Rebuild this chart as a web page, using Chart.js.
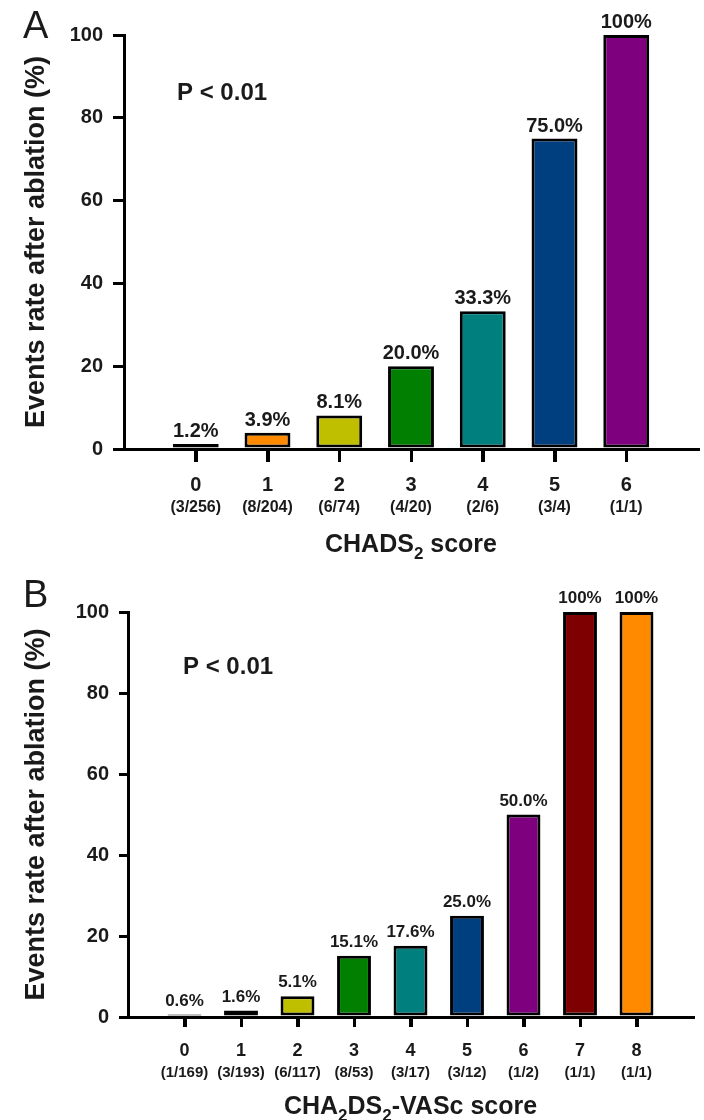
<!DOCTYPE html>
<html>
<head>
<meta charset="utf-8">
<script src="https://cdn.jsdelivr.net/npm/chart.js@4.4.1/dist/chart.umd.min.js"></script>
<style>
  html, body { margin: 0; padding: 0; background: #fff; }
  #wrap { position: relative; width: 704px; height: 1120px; }
  .panel { position: absolute; left: 0; width: 704px; height: 560px; }
</style>
</head>
<body>
<div id="wrap">
  <div class="panel" style="top:0"><canvas id="chartA" width="704" height="560"></canvas></div>
  <div class="panel" style="top:560px"><canvas id="chartB" width="704" height="560"></canvas></div>
</div>
<script>
// Panel A - CHADS2 score
const scoresA = ['0', '1', '2', '3', '4', '5', '6'];
const countsA = ['(3/256)', '(8/204)', '(6/74)', '(4/20)', '(2/6)', '(3/4)', '(1/1)'];
const ratesA = [1.2, 3.9, 8.1, 20.0, 33.3, 75.0, 100];
const colorsA = ['#7a0000', '#ff8a00', '#bfbf00', '#007f00', '#007f7f', '#003f7f', '#7f007f'];

// Panel B - CHA2DS2-VASc score
const scoresB = ['0', '1', '2', '3', '4', '5', '6', '7', '8'];
const countsB = ['(1/169)', '(3/193)', '(6/117)', '(8/53)', '(3/17)', '(3/12)', '(1/2)', '(1/1)', '(1/1)'];
const ratesB = [0.6, 1.6, 5.1, 15.1, 17.6, 25.0, 50.0, 100, 100];
const colorsB = ['#1a0000', '#ff8a00', '#bfbf00', '#007f00', '#007f7f', '#003f7f', '#7f007f', '#7f0000', '#ff8a00'];

const yTicks = [0, 20, 40, 60, 80, 100];

// axis titles as [text, isSubscript] pieces
const titleA = [['CHADS', false], ['2', true], [' score', false]];
const titleB = [['CHA', false], ['2', true], ['DS', false], ['2', true], ['-VASc score', false]];

const FONT = "'Liberation Sans', Arial, sans-serif";
const INK = '#1a1a1a';

function fmtRate(v) {
  return v === 100 ? '100%' : v.toFixed(1) + '%';
}

// panel letter, P value, rates above bars, x tick marks, n/N counts and the x title
const annotate = {
  id: 'annotate',
  afterDraw(chart, args, o) {
    const ctx = chart.ctx;
    const xs = chart.scales.x;
    const meta = chart.getDatasetMeta(0);
    ctx.save();
    ctx.fillStyle = INK;

    ctx.font = 'normal ' + o.letterSize + 'px ' + FONT;
    ctx.textAlign = 'left';
    ctx.textBaseline = 'alphabetic';
    ctx.fillText(o.letter, o.letterX, o.letterY);

    ctx.font = 'bold ' + o.pSize + 'px ' + FONT;
    ctx.textBaseline = 'middle';
    ctx.fillText('P < 0.01', o.pX, o.pY);

    ctx.font = 'bold ' + o.valueSize + 'px ' + FONT;
    ctx.textAlign = 'center';
    ctx.textBaseline = 'alphabetic';
    meta.data.forEach((bar, i) => {
      ctx.fillText(fmtRate(o.rates[i]), bar.x, bar.y - o.valueGap);
    });

    // tick marks under the category positions
    ctx.strokeStyle = '#000';
    ctx.lineWidth = 3;
    xs.ticks.forEach(t => {
      const px = Math.round(xs.getPixelForValue(t.value)) + 0.5;
      ctx.beginPath();
      ctx.moveTo(px, xs.top);
      ctx.lineTo(px, xs.top + o.tickLen);
      ctx.stroke();
    });

    ctx.font = 'bold ' + o.countSize + 'px ' + FONT;
    ctx.textBaseline = 'middle';
    xs.ticks.forEach(t => {
      ctx.fillText(o.counts[t.value], xs.getPixelForValue(t.value), xs.top + o.countOffset);
    });

    // x title with real subscripts
    const big = 'bold ' + o.titleSize + 'px ' + FONT;
    const small = 'bold ' + Math.round(o.titleSize * 0.68) + 'px ' + FONT;
    let total = 0;
    o.title.forEach(([txt, sub]) => { ctx.font = sub ? small : big; total += ctx.measureText(txt).width; });
    let tx = (chart.chartArea.left + chart.chartArea.right) / 2 - total / 2;
    const ty = xs.bottom - o.titleBottom;
    ctx.textAlign = 'left';
    ctx.textBaseline = 'alphabetic';
    o.title.forEach(([txt, sub]) => {
      ctx.font = sub ? small : big;
      ctx.fillText(txt, tx, sub ? ty + o.titleSize * 0.28 : ty);
      tx += ctx.measureText(txt).width;
    });
    ctx.restore();
  }
};

function makeChart(id, s) {
  const n = s.scores.length;
  return new Chart(document.getElementById(id), {
    type: 'bar',
    data: {
      datasets: [{
        data: s.rates.map((v, i) => ({ x: i, y: v })),
        backgroundColor: s.colors,
        borderColor: '#000',
        borderWidth: 3,
        borderSkipped: false,
        categoryPercentage: 1,
        barPercentage: s.barPct,
        clip: false
      }]
    },
    options: {
      responsive: false,
      animation: false,
      layout: { padding: { top: s.top, right: s.right, left: 0, bottom: 0 } },
      plugins: {
        legend: { display: false },
        tooltip: { enabled: false },
        annotate: {
          letter: s.letter, letterX: 23, letterY: s.letterY, letterSize: 38,
          pX: s.pX, pY: s.pY, pSize: 24,
          rates: s.rates, counts: s.counts,
          valueSize: s.valueSize, valueGap: s.valueGap,
          countSize: s.countSize, countOffset: s.countOffset,
          tickLen: s.xTickLen,
          title: s.xTitle, titleSize: 25, titleBottom: s.titleBottom
        }
      },
      scales: {
        x: {
          type: 'linear',
          offset: false,
          min: -1,
          max: n,
          afterBuildTicks: sc => { sc.ticks = sc.ticks.filter(t => t.value >= 0 && t.value < n); },
          afterFit: sc => { sc.height = s.xHeight; },
          ticks: {
            stepSize: 1,
            autoSkip: false,
            maxRotation: 0,
            color: INK,
            padding: s.tickPad,
            font: { family: FONT, size: s.tickSize, weight: 'bold' },
            callback: v => s.scores[v]
          },
          grid: { offset: false, drawOnChartArea: false, color: '#000', lineWidth: 3, tickLength: s.xTickLen },
          border: { display: true, color: '#000', width: 3 }
        },
        y: {
          min: 0,
          max: 100,
          afterBuildTicks: sc => { sc.ticks = yTicks.map(v => ({ value: v })); },
          afterFit: sc => { sc.width = s.yWidth; },
          ticks: {
            color: INK,
            padding: 10,
            font: { family: FONT, size: 20, weight: 'bold' }
          },
          grid: { drawOnChartArea: false, color: '#000', lineWidth: 3, tickLength: s.yTickLen },
          border: { display: true, color: '#000', width: 3 },
          title: {
            display: true,
            text: 'Events rate after ablation (%)',
            color: INK,
            font: { family: FONT, size: 27, weight: 'bold' },
            padding: { top: 20, bottom: 0 }
          }
        }
      }
    },
    plugins: [annotate]
  });
}

makeChart('chartA', {
  scores: scoresA, counts: countsA, rates: ratesA, colors: colorsA,
  letter: 'A', letterY: 38, pX: 177, pY: 93,
  barPct: 0.64, top: 35, right: 6, yWidth: 124, xHeight: 111,
  tickSize: 20, tickPad: 11, xTickLen: 13, yTickLen: 11,
  valueSize: 20, valueGap: 7, countSize: 16, countOffset: 59,
  xTitle: titleA, titleBottom: 8
});

makeChart('chartB', {
  scores: scoresB, counts: countsB, rates: ratesB, colors: colorsB,
  letter: 'B', letterY: 47, pX: 183, pY: 107,
  barPct: 0.6, top: 52, right: 11, yWidth: 128, xHeight: 103,
  tickSize: 18, tickPad: 13, xTickLen: 10, yTickLen: 9,
  valueSize: 17, valueGap: 9, countSize: 15, countOffset: 56,
  xTitle: titleB, titleBottom: 6
});
</script>
</body>
</html>
